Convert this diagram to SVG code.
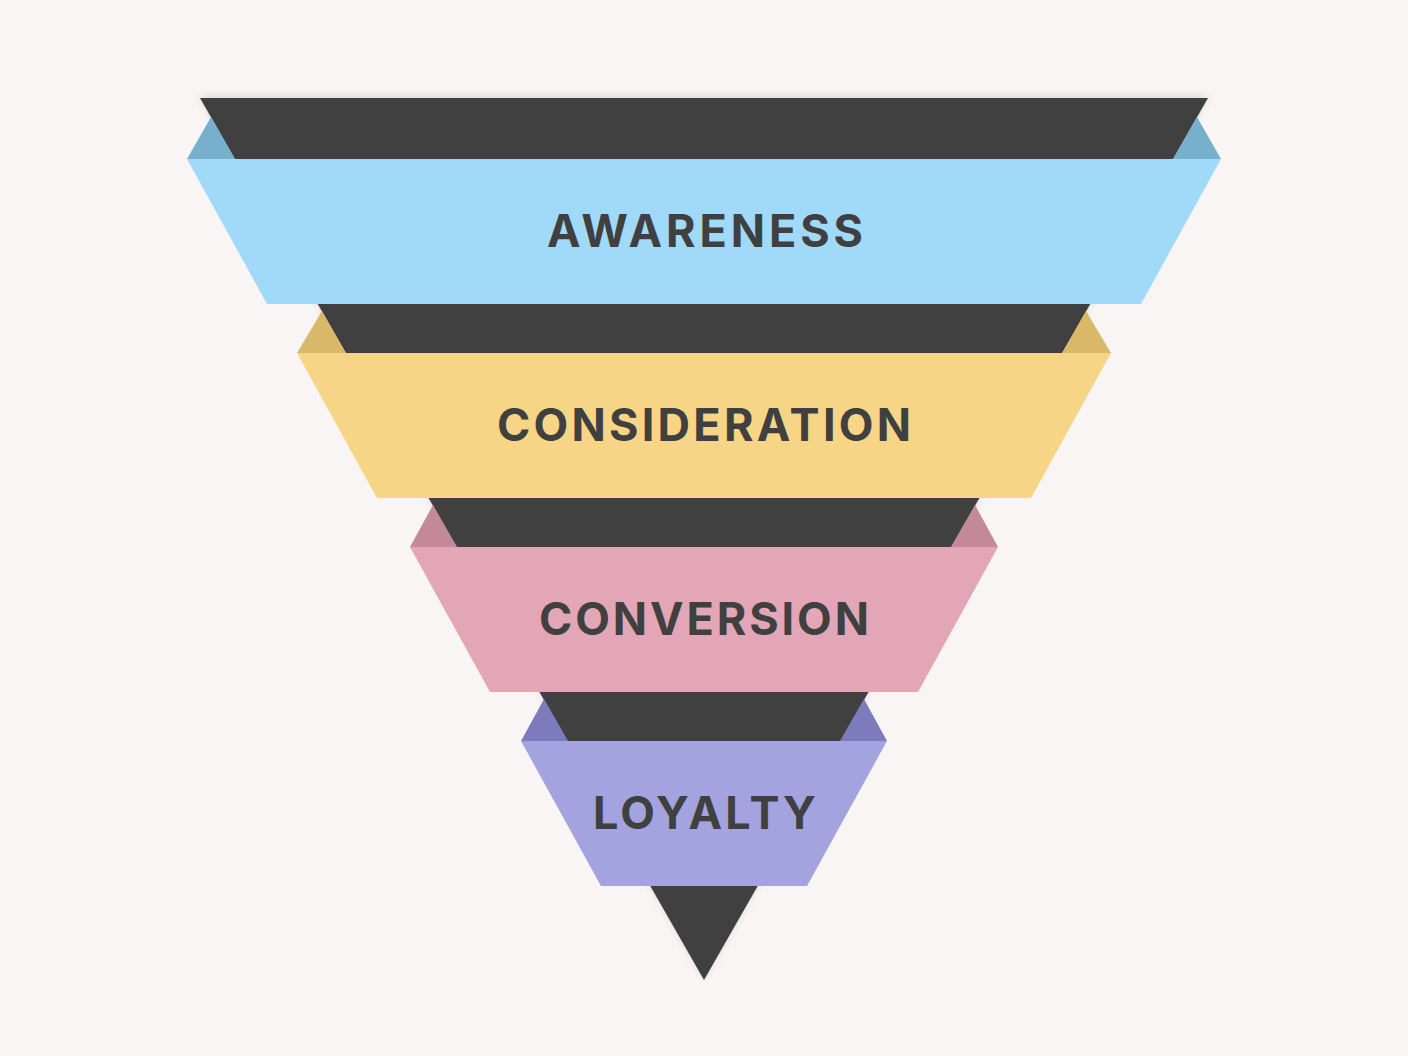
<svg xmlns="http://www.w3.org/2000/svg" width="1408" height="1056" viewBox="0 0 1408 1056">
<style>
.dark{fill:#404040}
.lbl{font-family:Inter,"Liberation Sans",sans-serif;font-weight:700;font-size:45px;fill:#404040}
</style>
<defs>
<filter id="sh" x="-10%" y="-10%" width="120%" height="120%">
<feDropShadow dx="0" dy="-2" stdDeviation="4" flood-color="#000" flood-opacity="0.12"/>
</filter>
</defs>
<rect width="1408" height="1056" fill="#f8f5f4"/>
<g id="funnel">
<polygon class="dark" points="200,98 1208,98 704,980" filter="url(#sh)"/>
</g>
<g id="awareness">
<polygon points="187,159 235,159 211,117" fill="#77b0cc"/>
<polygon points="1221,159 1173,159 1197,117" fill="#77b0cc"/>
<polygon points="187,159 1221,159 1141,304 267,304" fill="#a1daf8"/>
<text class="lbl" x="547" y="247" textLength="316" lengthAdjust="spacing">AWARENESS</text>
</g>
<g id="consideration">
<polygon points="297,353 346,353 322,311" fill="#d9b86a"/>
<polygon points="1111,353 1062,353 1086,311" fill="#d9b86a"/>
<polygon points="297,353 1111,353 1031,498 377,498" fill="#f6d586"/>
<text class="lbl" x="497" y="441" textLength="414" lengthAdjust="spacing">CONSIDERATION</text>
</g>
<g id="conversion">
<polygon points="410,547 457,547 433,505" fill="#c3889a"/>
<polygon points="998,547 951,547 975,505" fill="#c3889a"/>
<polygon points="410,547 998,547 918,692 490,692" fill="#e2a6b6"/>
<text class="lbl" x="539" y="635" textLength="330" lengthAdjust="spacing">CONVERSION</text>
</g>
<g id="loyalty">
<polygon points="521,741 568,741 544,699" fill="#7c7cbc"/>
<polygon points="887,741 840,741 864,699" fill="#7c7cbc"/>
<polygon points="521,741 887,741 807,886 601,886" fill="#a3a3e0"/>
<text class="lbl" x="593" y="829" textLength="223" lengthAdjust="spacing">LOYALTY</text>
</g>
<g id="connectors"></g>
</svg>
